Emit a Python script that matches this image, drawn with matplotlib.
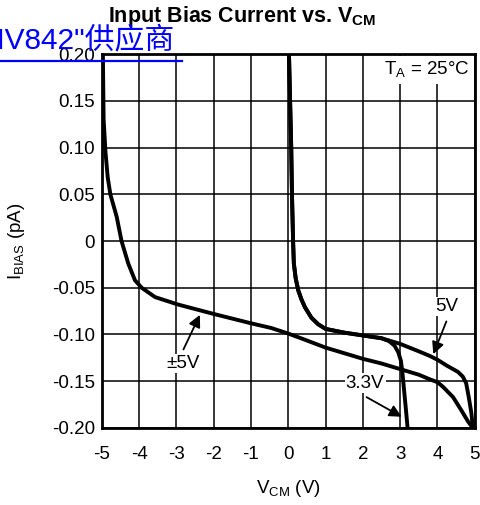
import matplotlib
matplotlib.use("Agg")
import matplotlib.pyplot as plt
from matplotlib.lines import Line2D

plt.rcParams['font.family'] = ['Liberation Sans', 'Noto Sans CJK SC', 'DejaVu Sans']
plt.rcParams['axes.unicode_minus'] = False
plt.rcParams['mathtext.fontset'] = 'custom'
plt.rcParams['mathtext.rm'] = 'Liberation Sans'
plt.rcParams['mathtext.bf'] = 'Liberation Sans:bold'

# ---- data ----
x_pm5 = [-4.97, -4.95, -4.90, -4.84, -4.77, -4.60, -4.47, -4.29, -4.11, -3.93, -3.57,
         -2.95, -2.00, -1.00, -0.46, 0.00, 0.34, 1.00, 2.00, 2.50, 3.00, 3.50, 3.80, 4.00,
         4.15, 4.42, 4.64, 4.82, 4.95]
y_pm5 = [0.200, 0.130, 0.095, 0.068, 0.050, 0.026, 0.000, -0.024, -0.042, -0.050, -0.060,
         -0.068, -0.078, -0.088, -0.093, -0.099, -0.104, -0.114, -0.126, -0.131, -0.137,
         -0.143, -0.148, -0.151, -0.156, -0.167, -0.181, -0.193, -0.200]

x_5v = [0.02, 0.05, 0.08, 0.10, 0.13, 0.15, 0.20, 0.27, 0.36, 0.45, 0.62, 0.80, 1.00, 1.50,
        2.00, 2.50, 3.00, 3.50, 3.80, 4.00, 4.24, 4.55, 4.68, 4.77, 4.84, 4.91, 4.95]
y_5v = [0.200, 0.150, 0.100, 0.050, 0.000, -0.024, -0.040, -0.053, -0.063, -0.071, -0.082,
        -0.089, -0.094, -0.098, -0.101, -0.104, -0.110, -0.118, -0.123, -0.127, -0.133,
        -0.140, -0.145, -0.152, -0.167, -0.184, -0.200]

x_33v = [0.02, 0.05, 0.08, 0.10, 0.13, 0.15, 0.20, 0.27, 0.36, 0.45, 0.62, 0.80, 1.00, 1.50,
         2.00, 2.50, 2.70, 2.85, 2.95, 3.02, 3.06, 3.10, 3.15, 3.20]
y_33v = [0.200, 0.150, 0.100, 0.050, 0.000, -0.024, -0.040, -0.053, -0.063, -0.071, -0.082,
         -0.089, -0.094, -0.098, -0.101, -0.104, -0.107, -0.112, -0.119, -0.128, -0.140,
         -0.157, -0.178, -0.200]

x_ticks = [-5, -4, -3, -2, -1, 0, 1, 2, 3, 4, 5]
x_tick_labels = ['-5', '-4', '-3', '-2', '-1', '0', '1', '2', '3', '4', '5']
y_ticks = [0.20, 0.15, 0.10, 0.05, 0.0, -0.05, -0.10, -0.15, -0.20]
y_tick_labels = ['0.20', '0.15', '0.10', '0.05', '0', '-0.05', '-0.10', '-0.15', '-0.20']

fs = 13.5

fig = plt.figure(figsize=(4.8, 5.05), dpi=100)
ax = fig.add_axes([0.212, 0.1525, 0.777, 0.7405])

ax.set_xlim(-5, 5)
ax.set_ylim(-0.20, 0.20)
ax.set_xticks(x_ticks)
ax.set_xticklabels(x_tick_labels)
ax.set_yticks(y_ticks)
ax.set_yticklabels(y_tick_labels)
ax.tick_params(axis='both', length=0, labelsize=fs, colors='black')
ax.tick_params(axis='x', pad=13)
ax.tick_params(axis='y', pad=5)
ax.grid(True, color='black', linewidth=1.1)
ax.set_axisbelow(True)
for s in ax.spines.values():
    s.set_linewidth(2.0)
    s.set_color('black')

lw = 2.8
ax.plot(x_pm5, y_pm5, color='black', lw=lw, solid_capstyle='butt', zorder=3)
ax.plot(x_5v, y_5v, color='black', lw=lw, solid_capstyle='butt', zorder=3)
ax.plot(x_33v, y_33v, color='black', lw=lw, solid_capstyle='butt', zorder=3)

bbox = dict(facecolor='white', edgecolor='none', pad=1.0)
ap = dict(arrowstyle='-|>', color='black', lw=1.3, mutation_scale=18, shrinkA=0, shrinkB=0)

ax.annotate('', xy=(-2.37, -0.079), xytext=(-2.81, -0.116), arrowprops=ap, zorder=4)
ax.text(-2.81, -0.131, '±5V', ha='center', va='center', fontsize=fs, bbox=bbox, zorder=4)

ax.annotate('', xy=(3.89, -0.121), xytext=(4.24, -0.086), arrowprops=ap, zorder=4)
ax.text(4.24, -0.070, '5V', ha='center', va='center', fontsize=fs, bbox=bbox, zorder=4)

ax.annotate('', xy=(3.04, -0.188), xytext=(2.10, -0.167), arrowprops=ap, zorder=4)
ax.text(2.06, -0.152, '3.3V', ha='center', va='center', fontsize=fs, bbox=bbox, zorder=4)

ax.text(4.85, 0.183, 'T$_\\mathregular{A}$ = 25°C', ha='right', va='center', fontsize=fs,
        bbox=dict(facecolor='white', edgecolor='none', pad=3.0), zorder=4)

ax.set_xlabel('V$_\\mathregular{CM}$ (V)', fontsize=fs)
ax.xaxis.set_label_coords(0.5, -0.135)
ax.set_ylabel('I$_\\mathregular{BIAS}$ (pA)', fontsize=fs)
ax.yaxis.set_label_coords(-0.20, 0.5)

fig.text(0.504, 0.968, 'Input Bias Current vs. V$_\\mathbf{CM}$', ha='center', va='center',
         fontsize=15.5, fontweight='bold')

# overlay link text
fig.text(-37 / 480, 1 - 48 / 505, 'LMV842"供应商', ha='left', va='baseline', fontsize=21.5,
         color='#0000ff')
fig.add_artist(Line2D([0, 182 / 480], [1 - 61 / 505, 1 - 61 / 505], color='#0000ff', lw=1.6,
                      transform=fig.transFigure))

fig.savefig('out.png', dpi=100)
